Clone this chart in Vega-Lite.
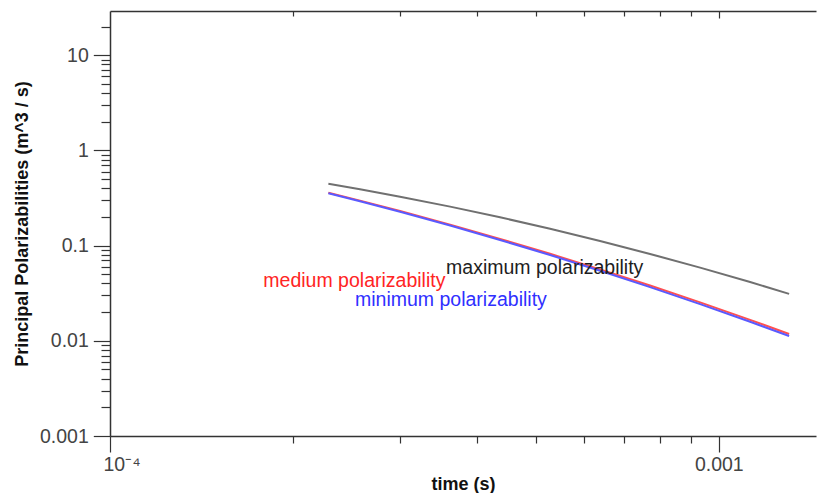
{
  "$schema": "https://vega.github.io/schema/vega-lite/v6.json",
  "autosize": "none",
  "width": 706,
  "height": 425,
  "padding": {"left": 110, "top": 11, "right": 1, "bottom": 57},
  "background": "white",
  "config": {
    "view": {"stroke": null},
    "axis": {
      "grid": false,
      "labelFont": "Liberation Sans",
      "labelFontSize": 19.5,
      "labelColor": "#444444",
      "tickColor": "#333333",
      "tickWidth": 1.2,
      "domainColor": "#333333",
      "domainWidth": 1.5,
      "titleFont": "Liberation Sans",
      "titleFontSize": 18,
      "titleFontWeight": "bold",
      "titleColor": "#111111"
    }
  },
  "datasets": {
    "curves": [
      {"series": "maximum", "time": 0.0002284, "alpha": 0.4469},
      {"series": "maximum", "time": 0.0002574, "alpha": 0.3908},
      {"series": "maximum", "time": 0.0002995, "alpha": 0.3266},
      {"series": "maximum", "time": 0.0003620, "alpha": 0.2567},
      {"series": "maximum", "time": 0.0004372, "alpha": 0.1982},
      {"series": "maximum", "time": 0.0005283, "alpha": 0.1502},
      {"series": "maximum", "time": 0.0006382, "alpha": 0.1119},
      {"series": "maximum", "time": 0.0007711, "alpha": 0.08178},
      {"series": "maximum", "time": 0.0009317, "alpha": 0.05871},
      {"series": "maximum", "time": 0.0011257, "alpha": 0.04140},
      {"series": "maximum", "time": 0.0013046, "alpha": 0.03112},
      {"series": "medium", "time": 0.0002284, "alpha": 0.3594},
      {"series": "medium", "time": 0.0002574, "alpha": 0.2966},
      {"series": "medium", "time": 0.0002995, "alpha": 0.2306},
      {"series": "medium", "time": 0.0003620, "alpha": 0.1660},
      {"series": "medium", "time": 0.0004372, "alpha": 0.1176},
      {"series": "medium", "time": 0.0005283, "alpha": 0.08201},
      {"series": "medium", "time": 0.0006382, "alpha": 0.05629},
      {"series": "medium", "time": 0.0007711, "alpha": 0.03806},
      {"series": "medium", "time": 0.0009317, "alpha": 0.02533},
      {"series": "medium", "time": 0.0011257, "alpha": 0.01659},
      {"series": "medium", "time": 0.0013046, "alpha": 0.01179},
      {"series": "minimum", "time": 0.0002284, "alpha": 0.3551},
      {"series": "minimum", "time": 0.0002574, "alpha": 0.2922},
      {"series": "minimum", "time": 0.0002995, "alpha": 0.2265},
      {"series": "minimum", "time": 0.0003620, "alpha": 0.1624},
      {"series": "minimum", "time": 0.0004372, "alpha": 0.1146},
      {"series": "minimum", "time": 0.0005283, "alpha": 0.07961},
      {"series": "minimum", "time": 0.0006382, "alpha": 0.05445},
      {"series": "minimum", "time": 0.0007711, "alpha": 0.03667},
      {"series": "minimum", "time": 0.0009317, "alpha": 0.02429},
      {"series": "minimum", "time": 0.0011257, "alpha": 0.01585},
      {"series": "minimum", "time": 0.0013046, "alpha": 0.01124}
    ],
    "labels": [
      {"series": "maximum", "text": "maximum polarizability", "time": 0.0003565, "alpha": 0.05006},
      {"series": "medium", "text": "medium polarizability", "time": 0.0001786, "alpha": 0.03673},
      {"series": "minimum", "text": "minimum polarizability", "time": 0.0002526, "alpha": 0.02319}
    ]
  },
  "resolve": {
    "scale": {"x": "shared", "y": "shared"},
    "axis": {"x": "independent", "y": "independent"}
  },
  "layer": [
    {
      "data": {"name": "curves"},
      "transform": [{"filter": "datum.series === 'maximum'"}],
      "mark": {"type": "line", "color": "#707070", "strokeWidth": 2, "interpolate": "monotone"},
      "encoding": {
        "x": {
          "field": "time", "type": "quantitative",
          "scale": {"type": "log", "domain": [0.0001, 0.0014443], "nice": false, "zero": false},
          "axis": {
            "orient": "bottom", "values": [0.0001, 0.001], "tickSize": 16,
            "labelPadding": 3, "labelFlush": true, "labelFlushOffset": 7,
            "labelExpr": "datum.value < 0.0005 ? '10⁻⁴' : '0.001'",
            "title": "time (s)", "titlePadding": 2
          }
        },
        "y": {
          "field": "alpha", "type": "quantitative",
          "scale": {"type": "log", "domain": [0.001, 29.13], "nice": false, "zero": false},
          "axis": {
            "orient": "left", "values": [0.001, 0.01, 0.1, 1, 10], "tickSize": 16.7,
            "labelPadding": 5, "labelExpr": "format(datum.value, '~g')",
            "title": "Principal Polarizabilities  (m^3 / s)", "titlePadding": 8
          }
        }
      }
    },
    {
      "data": {"name": "curves"},
      "transform": [{"filter": "datum.series === 'medium'"}],
      "mark": {"type": "line", "color": "#ff5050", "strokeWidth": 2, "interpolate": "monotone"},
      "encoding": {
        "x": {
          "field": "time", "type": "quantitative",
          "scale": {"type": "log", "domain": [0.0001, 0.0014443], "nice": false, "zero": false},
          "axis": {
            "orient": "bottom",
            "values": [0.0002, 0.0003, 0.0004, 0.0005, 0.0006, 0.0007, 0.0008, 0.0009],
            "tickSize": 7, "labels": false, "domain": false, "title": null
          }
        },
        "y": {
          "field": "alpha", "type": "quantitative",
          "scale": {"type": "log", "domain": [0.001, 29.13], "nice": false, "zero": false},
          "axis": {
            "orient": "left",
            "values": [0.002, 0.003, 0.004, 0.005, 0.006, 0.007, 0.008, 0.009,
                       0.02, 0.03, 0.04, 0.05, 0.06, 0.07, 0.08, 0.09,
                       0.2, 0.3, 0.4, 0.5, 0.6, 0.7, 0.8, 0.9,
                       2, 3, 4, 5, 6, 7, 8, 9, 20],
            "tickSize": 9, "labels": false, "domain": false, "title": null
          }
        }
      }
    },
    {
      "data": {"name": "curves"},
      "transform": [{"filter": "datum.series === 'minimum'"}],
      "mark": {"type": "line", "color": "#5a5aff", "strokeWidth": 2, "interpolate": "monotone"},
      "encoding": {
        "x": {
          "field": "time", "type": "quantitative",
          "scale": {"type": "log", "domain": [0.0001, 0.0014443], "nice": false, "zero": false},
          "axis": {
            "orient": "top", "values": [0.001], "tickSize": -7,
            "labels": false, "title": null
          }
        },
        "y": {
          "field": "alpha", "type": "quantitative",
          "scale": {"type": "log", "domain": [0.001, 29.13], "nice": false, "zero": false},
          "axis": null
        }
      }
    },
    {
      "data": {"name": "labels"},
      "mark": {"type": "text", "align": "left", "baseline": "alphabetic", "font": "Liberation Sans", "fontSize": 19.5},
      "encoding": {
        "x": {
          "field": "time", "type": "quantitative",
          "scale": {"type": "log", "domain": [0.0001, 0.0014443], "nice": false, "zero": false},
          "axis": {
            "orient": "top",
            "values": [0.0002, 0.0003, 0.0004, 0.0005, 0.0006, 0.0007, 0.0008, 0.0009],
            "tickSize": -5, "labels": false, "domain": false, "title": null
          }
        },
        "y": {
          "field": "alpha", "type": "quantitative",
          "scale": {"type": "log", "domain": [0.001, 29.13], "nice": false, "zero": false},
          "axis": null
        },
        "text": {"field": "text"},
        "color": {
          "field": "series", "type": "nominal",
          "scale": {"domain": ["maximum", "medium", "minimum"], "range": ["#1e1e1e", "#ff2424", "#3030ff"]},
          "legend": null
        }
      }
    }
  ]
}
